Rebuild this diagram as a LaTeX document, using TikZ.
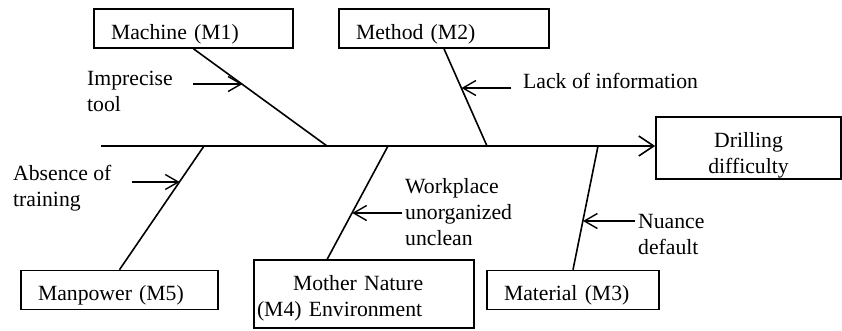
\documentclass[tikz,border=0pt]{standalone}
\usepackage{fontspec}
\setmainfont{Liberation Serif}
\usetikzlibrary{arrows.meta,calc}
\begin{document}
\begin{tikzpicture}[x=1pt,y=-1pt,
  every node/.style={font=\fontsize{21.7}{26}\selectfont},
  catbox/.style={draw, line width=1.6pt, inner ysep=0pt, inner xsep=17pt,
    align=left, text height=21pt, text depth=0pt, minimum height=39pt},
  bigbox/.style={draw, line width=1.6pt, inner sep=0pt},
  cause/.style={inner sep=0pt, anchor=base west},
  bone/.style={line width=1.6pt},
  spine/.style={line width=1.8pt, -{Straight Barb[length=15pt,width=20pt,line width=1.6pt]}},
  causearrow/.style={line width=1.4pt, -{Straight Barb[length=13pt,width=15pt,line width=1.4pt]}}
]
\useasboundingbox (0,0) rectangle (842,330);

% category boxes
\node[catbox, minimum width=199pt, text width=165pt] (M1) at (193.5,28.5) {Machine (M1)};
\node[catbox, minimum width=210pt, text width=176pt] (M2) at (444,28.5) {Method (M2)};
\node[catbox, minimum width=197pt, text width=163pt] (M5) at (119.5,290) {Manpower (M5)};
\node[catbox, minimum width=172pt, text width=138pt] (M3) at (573,290) {Material (M3)};
\node[bigbox, minimum width=220pt, minimum height=68pt, inner xsep=3pt,
      text width=214pt, align=left, text height=16pt, text depth=24pt] (M4) at (364,294)
  {\begin{tabular}[t]{@{}l@{}}\hspace*{36pt}Mother Nature\\(M4) Environment\end{tabular}};

% effect box
\node[bigbox, minimum width=185pt, minimum height=62pt, text height=20pt, text depth=22pt] (D) at (748.5,148)
  {\begin{tabular}[t]{@{}c@{}}Drilling\\difficulty\end{tabular}};

% spine
\coordinate (tail) at (101,146);
\draw[spine] (tail) -- (tail -| D.west);

% points where the bones meet the spine
\coordinate (s1) at (327,146);
\coordinate (s2) at (487,146);
\coordinate (s5) at (204,146);
\coordinate (s4) at (388,146);
\coordinate (s3) at (598,146);
\coordinate (M4foot) at ($(M4.north west)+(74,0)$);

% bones
\draw[bone] (M1.south) -- (s1);
\draw[bone] (M2.south) -- (s2);
\draw[bone] (M5.north) -- (s5);
\draw[bone] (M4foot) -- (s4);
\draw[bone] (M3.north) -- (s3);

% points on the bones hit by the cause arrows
\coordinate (b1) at ($(M1.south)!0.367!(s1)$);
\coordinate (b2) at ($(M2.south)!0.408!(s2)$);
\coordinate (b5) at ($(s5)!0.288!(M5.north)$);
\coordinate (b4) at ($(s4)!0.588!(M4foot)$);
\coordinate (b3) at ($(s3)!0.60!(M3.north)$);

% causes
\node[cause] (c1) at (87,85) {\begin{tabular}[t]{@{}l@{}}Imprecise\\tool\end{tabular}};
\node[cause] (c2) at (523,88) {Lack of information};
\node[cause] (c5) at (13,180) {\begin{tabular}[t]{@{}l@{}}Absence of\\training\end{tabular}};
\node[cause] (c4) at (405,193) {\begin{tabular}[t]{@{}l@{}}Workplace\\unorganized\\unclean\end{tabular}};
\node[cause] (c3) at (638,228) {\begin{tabular}[t]{@{}l@{}}Nuance\\default\end{tabular}};

% cause arrows
\coordinate (t1) at (193,84);
\coordinate (t2) at (511,88);
\coordinate (t5) at (132,182);
\coordinate (t4) at (402,213);
\coordinate (t3) at (635,221);
\draw[causearrow] (t1) -- (t1 -| b1);
\draw[causearrow] (t2) -- (t2 -| b2);
\draw[causearrow] (t5) -- (t5 -| b5);
\draw[causearrow] (t4) -- (t4 -| b4);
\draw[causearrow] (t3) -- (t3 -| b3);
\end{tikzpicture}
\end{document}
